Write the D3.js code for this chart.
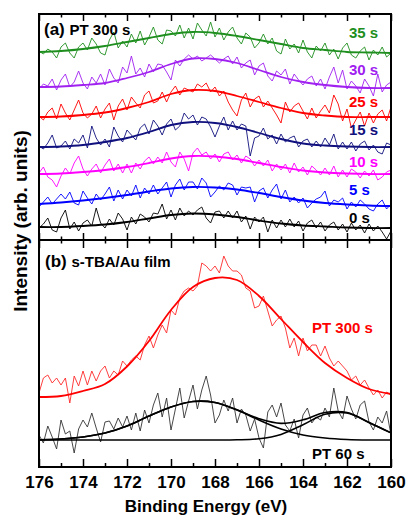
<!DOCTYPE html>
<html>
<head>
<meta charset="utf-8">
<script src="https://cdn.jsdelivr.net/npm/d3@7"></script>
<style>
  body { margin: 0; background: #fff; }
  text { font-family: "Liberation Sans", Arial, sans-serif; font-weight: bold; }
</style>
</head>
<body>
<div id="chart"></div>
<script>
// ---- data (arb. units) ----
// fits are sampled every 1 eV, raw spectra every 0.2 eV, both from 176 to 160 eV
const fitEnergy = [176, 175, 174, 173, 172, 171, 170, 169, 168, 167, 166, 165, 164, 163, 162, 161, 160];
const rawStep = 0.2;
const rawEnergy = d3.range(81).map((i) => +(176 - i * rawStep).toFixed(1));

// panel (a): PT 300 s, S 2p vs. time
const seriesNames = ['35 s', '30 s', '25 s', '15 s', '10 s', '5 s', '0 s'];
const seriesColors = ['#1e8f1e', '#a020f0', '#ff0000', '#10107e', '#ff00ff', '#0000ff', '#000000'];
const seriesOffsets = [188, 153, 123, 93, 66, 36, 13];

const raw35 = [1,-2,3,0,-6,5,9,-1,-6,5,9,2,14,8,-1,-3,12,20,4,11,5,18,9,21,7,15,25,12,8,22,21,16,27,14,24,13,29,22,16,30,15,24,12,20,25,14,8,19,15,4,9,18,8,14,1,-2,13,3,8,-1,12,0,-6,6,1,9,-3,3,-7,4,9,-3,-6,1,5,-8,2,-3,5,-5,-1];
const raw30 = [-2,3,1,8,-3,7,13,0,5,16,4,-2,10,4,13,2,18,9,4,20,14,31,13,19,10,23,15,23,22,15,7,27,21,28,32,28,31,26,29,32,28,24,28,31,23,30,19,24,27,12,21,24,11,6,16,12,18,3,13,7,2,8,11,1,8,-2,10,20,4,17,-2,6,1,-6,8,1,-9,13,-5,2,5];
const raw25 = [1,-3,5,9,-2,13,4,-3,7,17,4,-1,3,11,-1,8,14,-3,11,18,7,20,14,9,22,26,14,16,25,15,25,31,22,29,27,25,33,30,34,25,30,21,26,15,7,1,17,24,10,18,21,10,16,9,2,-6,15,5,11,14,6,-2,9,-1,6,12,4,22,13,-4,8,-11,-3,5,-9,4,-6,3,7,-4,10];
const raw15 = [1,-2,4,12,-1,1,6,-2,8,4,12,-1,21,9,2,8,0,20,11,5,17,12,7,19,23,13,27,21,12,23,28,17,21,34,28,32,22,30,28,20,10,21,30,17,26,17,23,21,-9,9,11,19,8,12,3,13,5,9,11,0,6,8,0,6,0,9,2,13,-2,5,-2,5,-4,3,6,-3,2,-5,-7,4,2];
const raw10 = [1,7,-3,-6,-13,-2,6,0,11,18,5,-2,5,10,1,9,15,3,10,1,10,1,11,5,13,17,10,17,11,22,12,7,22,15,3,21,26,19,22,15,20,12,20,22,14,19,11,18,15,8,14,8,14,3,10,4,10,1,11,2,7,-1,8,4,-1,6,-1,8,-3,4,-3,5,2,-4,3,-2,4,-6,-3,2,4];
const raw5 = [-3,2,7,0,5,10,5,12,1,-1,13,6,0,10,4,10,17,3,14,5,14,8,19,6,16,10,19,10,16,22,7,19,25,14,22,22,15,26,21,7,12,18,14,21,19,9,17,16,17,2,13,16,6,14,20,5,14,2,7,1,6,-4,1,5,7,13,-2,4,2,6,-5,2,-3,4,0,-5,-7,0,4,-5,0];
const raw0 = [-1,3,9,-3,-5,9,17,-2,5,-4,4,7,1,19,4,-1,8,2,14,8,-3,10,3,13,10,5,14,13,23,8,17,7,19,11,16,12,17,20,9,4,15,16,9,16,9,16,5,11,-2,10,5,10,-5,7,-1,7,0,8,0,6,-4,4,7,-1,5,-4,2,5,-3,3,-5,4,-3,2,-6,3,-4,1,-5,-12,-4];

const fit35 = [0, 1, 3, 6, 10, 14, 18, 20, 19, 16, 12, 8, 4, 2, 0, -0.5, -1];
const fit30 = [0, 0.5, 2, 4, 9, 15, 23, 28.5, 28, 24, 17, 10, 5, 2, 0, -1, -1];
const fit25 = [0, 0.5, 2, 4.5, 9, 15, 23, 27, 26, 21, 15, 9, 4, 1.5, 0, 0, 0];
const fit15 = [0, 0.5, 2, 5, 9, 15, 22, 25, 24, 20, 14, 8, 3.5, 1.5, 0.5, 0, 0];
const fit10 = [0, 0.5, 2, 4, 7, 11, 15.5, 18, 17.5, 15, 11, 7, 3.5, 1.5, 0.5, 0, 0];
const fit5 = [0, 1.5, 3.5, 6, 9, 12.5, 15.5, 17, 16.5, 14.5, 11, 7, 3.5, 1, -0.5, -1.5, -2];
const fit0 = [0, 0, 1, 2.5, 5, 8.5, 12, 13.5, 12.5, 10, 6.5, 3.5, 1.5, 0.5, -0.5, -1, -1];

const rawA = [raw35, raw30, raw25, raw15, raw10, raw5, raw0];
const fitA = [fit35, fit30, fit25, fit15, fit10, fit5, fit0];

// panel (b): s-TBA/Au film
const pt300Raw = [74,89,92,84,89,82,89,64,91,81,96,82,96,86,96,101,89,96,92,106,101,107,111,107,122,131,119,132,142,134,157,152,169,176,179,176,181,204,201,196,201,194,211,201,196,196,192,179,176,159,161,171,156,141,147,151,139,119,129,111,129,116,122,122,111,121,109,101,106,101,96,87,91,82,87,79,72,77,69,75,72];
const pt300Fit = [70, 71, 76, 83, 100.5, 126, 157, 180, 189, 187, 171, 148, 125, 104, 89, 78, 73];

const pt60Raw = [32,24,41,30,18,47,33,36,14,38,47,40,54,39,25,45,46,38,49,40,51,37,54,36,57,44,62,74,50,69,37,58,79,49,66,82,58,77,91,72,44,52,67,56,69,44,58,52,36,48,29,19,55,62,50,64,42,36,48,29,52,59,44,50,47,59,50,79,56,48,71,58,48,62,66,45,37,50,44,56,32];
const pt60Base = 27;
const pt60Peak1 = [0.3, 1, 3, 7, 14, 24, 33, 38.5, 37.5, 30, 20, 11, 5, 2, 0.5, 0, 0];
const pt60Peak2 = [0, 0, 0, 0, 0, 0, 0, 0, 0, 0.2, 1.3, 5.6, 15.2, 25.7, 27, 17.6, 7.1];
const pt60Sum = [0.3, 1, 3, 7, 14, 24, 33, 38.5, 37.5, 30.2, 21.3, 16.6, 20.2, 27.5, 27.5, 17.6, 7.1];

const majorTicks = [176, 174, 172, 170, 168, 166, 164, 162, 160];
const minorTicks = [175, 173, 171, 169, 167, 165, 163, 161];

// ---- layout ----
const width = 408;
const height = 516;
const plotLeft = 39, plotRight = 391, plotTop = 14, plotMid = 240, plotBottom = 467;
const labelLift = [14, 12, 10, 12, 7, 9, 4];

const svg = d3.select('#chart').append('svg').attr('width', width).attr('height', height);

const x = d3.scaleLinear().domain([176, 160]).range([plotLeft, plotRight]);
const yA = d3.scaleLinear().domain([0, plotMid - plotTop]).range([plotMid, plotTop]);
const yB = d3.scaleLinear().domain([0, plotBottom - plotMid]).range([plotBottom, plotMid]);

const rawLine = (y, off) =>
  d3.line().x((d, i) => x(rawEnergy[i])).y((d) => y(off + d));
const fitLine = (y, off) =>
  d3.line().x((d, i) => x(fitEnergy[i])).y((d) => y(off + d)).curve(d3.curveCatmullRom);

// panel (a) spectra
const gA = svg.append('g');
seriesNames.forEach((name, k) => {
  gA.append('path')
    .attr('d', rawLine(yA, seriesOffsets[k])(rawA[k]))
    .attr('fill', 'none')
    .attr('stroke', seriesColors[k])
    .attr('stroke-width', 0.9);
  gA.append('path')
    .attr('d', fitLine(yA, seriesOffsets[k])(fitA[k]))
    .attr('fill', 'none')
    .attr('stroke', seriesColors[k])
    .attr('stroke-width', 1.8);
  gA.append('text')
    .attr('x', 349)
    .attr('y', yA(seriesOffsets[k]) - labelLift[k])
    .attr('fill', seriesColors[k])
    .attr('font-size', 15)
    .text(name);
});

// panel (b) spectra
const gB = svg.append('g');
gB.append('path')
  .attr('d', rawLine(yB, 0)(pt300Raw))
  .attr('fill', 'none').attr('stroke', '#ff2a2a').attr('stroke-width', 0.9);
gB.append('path')
  .attr('d', fitLine(yB, 0)(pt300Fit))
  .attr('fill', 'none').attr('stroke', '#ff0000').attr('stroke-width', 1.8);
gB.append('path')
  .attr('d', rawLine(yB, 0)(pt60Raw))
  .attr('fill', 'none').attr('stroke', '#333').attr('stroke-width', 0.9);
[pt60Peak1, pt60Peak2, pt60Sum].forEach((s) => {
  gB.append('path')
    .attr('d', fitLine(yB, pt60Base)(s))
    .attr('fill', 'none').attr('stroke', '#000').attr('stroke-width', 1.6);
});

gB.append('text').attr('x', 312).attr('y', 333).attr('fill', '#ff0000').attr('font-size', 15).text('PT 300 s');
gB.append('text').attr('x', 312).attr('y', 459).attr('fill', '#000').attr('font-size', 15).text('PT 60 s');

// panel titles
const ta = svg.append('text').attr('x', 44).attr('y', 35).attr('fill', '#000');
ta.append('tspan').attr('font-size', 17).text('(a) ');
ta.append('tspan').attr('font-size', 15).text('PT 300 s');
const tb = svg.append('text').attr('x', 45).attr('y', 267).attr('fill', '#000');
tb.append('tspan').attr('font-size', 17).text('(b) ');
tb.append('tspan').attr('font-size', 15).text('s-TBA/Au film');

// ticks
function ticks(axis, y, values, size, fmt) {
  const g = svg.append('g')
    .attr('transform', `translate(0,${y})`)
    .call(axis(x).tickValues(values).tickSize(size).tickPadding(9).tickFormat(fmt));
  g.select('.domain').remove();
  g.selectAll('line').attr('stroke', '#000').attr('stroke-width', 1.5);
  return g;
}
const none = () => '';
ticks(d3.axisTop, plotTop, majorTicks, -7, none);
ticks(d3.axisTop, plotTop, minorTicks, -3.5, none);
ticks(d3.axisTop, plotMid, majorTicks, 7, none);
ticks(d3.axisTop, plotMid, minorTicks, 3.5, none);
ticks(d3.axisBottom, plotMid, majorTicks, 8, none);
ticks(d3.axisBottom, plotMid, minorTicks, 3.5, none);
ticks(d3.axisBottom, plotBottom, minorTicks, -4, none);
const xAxis = ticks(d3.axisBottom, plotBottom, majorTicks, -8, d3.format('d'));
xAxis.selectAll('text')
  .attr('fill', '#000')
  .attr('font-size', 17)
  .attr('font-family', '"Liberation Sans", Arial, sans-serif')
  .attr('font-weight', 'bold');

// frame
svg.append('rect')
  .attr('x', plotLeft).attr('y', plotTop)
  .attr('width', plotRight - plotLeft).attr('height', plotBottom - plotTop)
  .attr('fill', 'none').attr('stroke', '#000').attr('stroke-width', 2);
svg.append('line')
  .attr('x1', plotLeft).attr('x2', plotRight).attr('y1', plotMid).attr('y2', plotMid)
  .attr('stroke', '#000').attr('stroke-width', 2);

// axis titles
svg.append('text')
  .attr('x', (plotLeft + plotRight) / 2 - 9).attr('y', 512)
  .attr('text-anchor', 'middle').attr('font-size', 17)
  .text('Binding Energy (eV)');
svg.append('text')
  .attr('transform', 'translate(27,221) rotate(-90)')
  .attr('text-anchor', 'middle').attr('font-size', 19)
  .text('Intensity (arb. units)');
</script>
</body>
</html>
